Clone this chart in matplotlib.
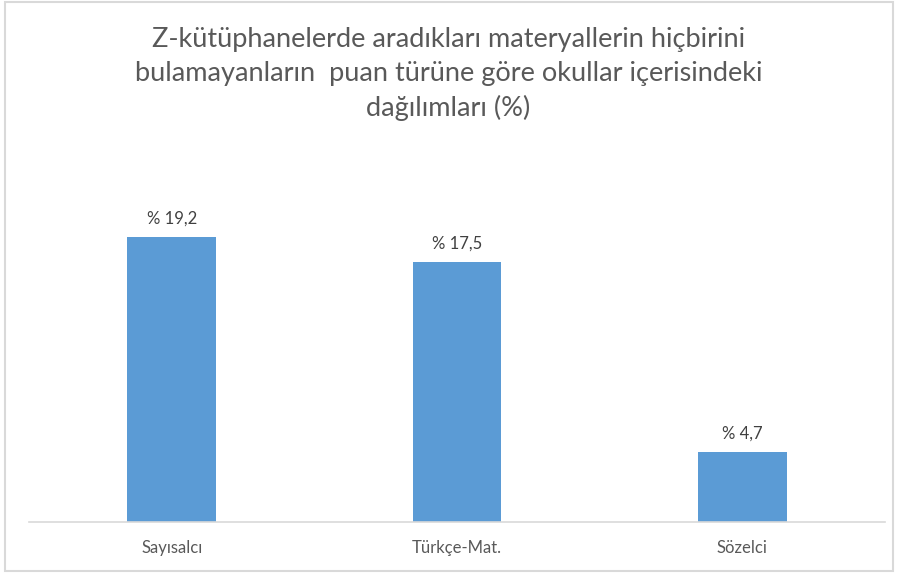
import matplotlib.pyplot as plt
from matplotlib.patches import Rectangle

categories = ["Sayısalcı", "Türkçe-Mat.", "Sözelci"]
values = [19.2, 17.5, 4.7]
value_labels = ["% 19,2", "% 17,5", "% 4,7"]
title = ("Z-kütüphanelerde aradıkları materyallerin hiçbirini\n"
         "bulamayanların  puan türüne göre okullar içerisindeki\n"
         "dağılımları (%)")

plt.rcParams["font.family"] = ["Lato", "DejaVu Sans"]

fig = plt.figure(figsize=(8.97, 5.73), dpi=100)
fig.patches.append(Rectangle((5 / 897, 2 / 573), 888 / 897, 569 / 573, transform=fig.transFigure,
                             fill=False, edgecolor="#d9d9d9", linewidth=1.5))

ax = fig.add_axes([29 / 897, 1 - 522 / 573, 856 / 897, 371 / 573])
x = range(len(categories))
bars = ax.bar(x, values, width=0.31, color="#5b9bd5")
ax.set_xlim(-0.5, 2.5)
ax.set_ylim(0, 25)

for bar, label in zip(bars, value_labels):
    ax.text(bar.get_x() + bar.get_width() / 2, bar.get_height() + 0.7, label,
            ha="center", va="bottom", fontsize=12, color="#404040")

ax.set_xticks(list(x))
ax.set_xticklabels(categories, fontsize=12, color="#595959")
ax.tick_params(axis="x", length=0, pad=13)
ax.set_yticks([])
for side in ["top", "left", "right"]:
    ax.spines[side].set_visible(False)
ax.spines["bottom"].set_color("#d9d9d9")
ax.spines["bottom"].set_linewidth(1.2)

fig.text(0.5, 1 - 74 / 573, title, ha="center", va="center", fontsize=19.5,
         color="#595959", linespacing=1.45)

fig.savefig("out.png", dpi=100)
plt.close(fig)
